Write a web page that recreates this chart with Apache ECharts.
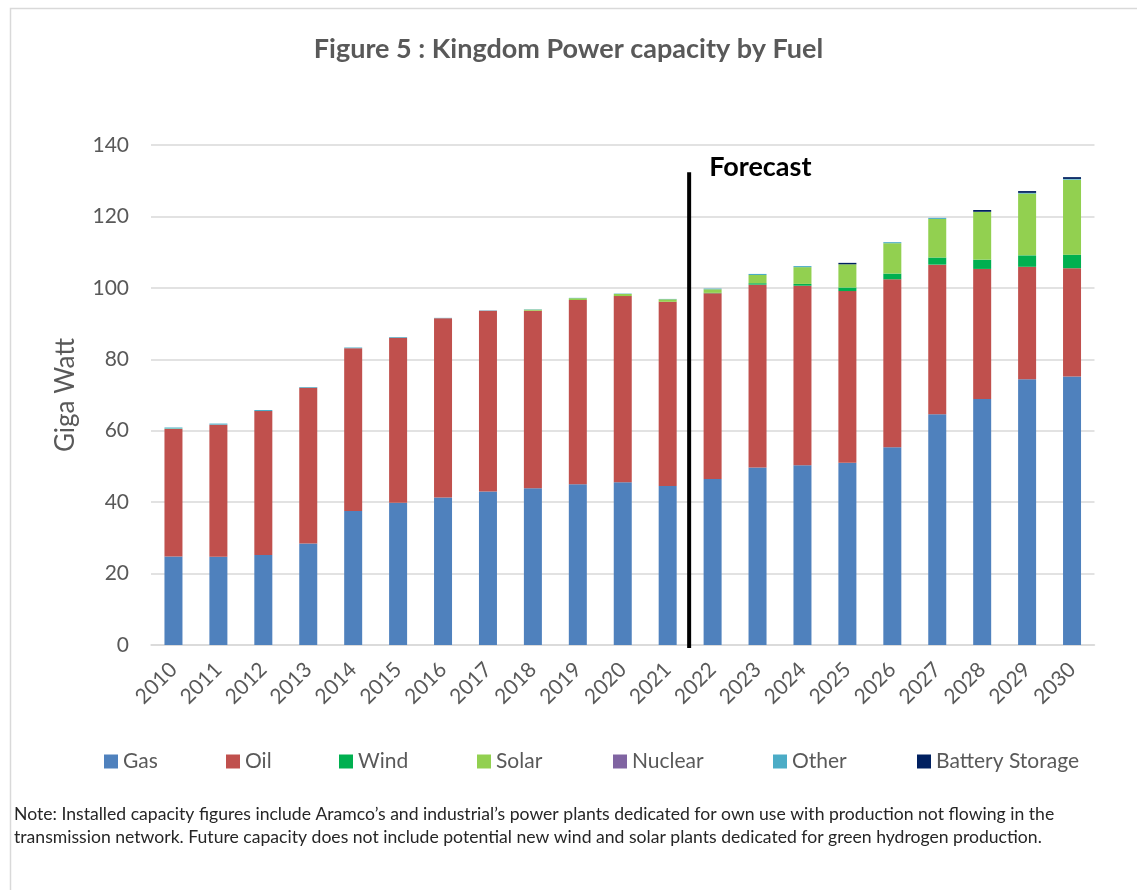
<!DOCTYPE html>
<html>
<head>
<meta charset="utf-8">
<script src="https://cdn.jsdelivr.net/npm/echarts@6/dist/echarts.min.js"></script>
<style>
html,body{margin:0;padding:0;background:#fff;}
#chart{width:1137px;height:890px;}
</style>
</head>
<body>
<div id="chart"></div>
<script>
const years = ['2010','2011','2012','2013','2014','2015','2016','2017','2018','2019','2020','2021','2022','2023','2024','2025','2026','2027','2028','2029','2030'];
const gas     = [24.8,24.7,25.2,28.4,37.5,39.8,41.3,43.0,43.9,45.0,45.6,44.5,46.5,49.7,50.3,51.0,55.4,64.6,68.9,74.4,75.2];
const oil     = [35.7,37.0,40.3,43.6,45.6,46.2,50.2,50.6,49.7,51.6,52.1,51.6,52.0,51.2,50.3,48.1,47.0,41.9,36.4,31.5,30.3];
const wind    = [0,0,0,0,0,0,0,0,0,0,0,0,0.1,0.4,0.5,1.0,1.6,2.0,2.6,3.2,3.8];
const solar   = [0.1,0,0,0,0,0,0,0,0.3,0.5,0.6,0.7,1.0,2.3,4.7,6.5,8.5,10.8,13.4,17.3,21.0];
const nuclear = [0,0,0,0,0,0,0,0,0,0,0,0,0,0,0,0,0,0,0,0,0];
const other   = [0.3,0.3,0.3,0.2,0.2,0.2,0.1,0.1,0.1,0.1,0.1,0.1,0.2,0.3,0.3,0,0.3,0.3,0,0.2,0.2];
const battery = [0,0,0,0,0,0,0,0,0,0,0,0,0,0,0,0.4,0,0,0.5,0.5,0.5];

const yTicks = { min: 0, max: 140, interval: 20 };
const forecastLabel = 'Forecast';
const forecastAfter = '2021';
const forecastTopValue = 132.4;

const seriesNames = ['Gas','Oil','Wind','Solar','Nuclear','Other','Battery Storage'];
const seriesData = [gas, oil, wind, solar, nuclear, other, battery];
const colors = ['#4F81BD','#C0504D','#00B050','#92D050','#8064A2','#4BACC6','#002060'];
const legendLeft = [99, 221, 334, 472, 608, 768, 912];

const FONT = 'Lato';
const GREY = '#595959';

const chart = echarts.init(document.getElementById('chart'), null, {renderer: 'canvas'});

const option = {
  backgroundColor: '#fff',
  animation: false,
  color: colors,
  textStyle: { fontFamily: FONT },
  title: {
    text: 'Figure 5 : Kingdom Power capacity by Fuel',
    left: 'center',
    top: 31,
    textStyle: { fontFamily: FONT, fontSize: 27, fontWeight: 'bold', color: GREY }
  },
  legend: seriesNames.map((n, i) => ({
    data: [n],
    left: legendLeft[i],
    top: 746,
    icon: 'rect',
    itemWidth: 14,
    itemHeight: 14,
    itemGap: 0,
    selectedMode: false,
    textStyle: { fontFamily: FONT, fontSize: 21, color: GREY, padding: [0,0,0,0] }
  })),
  grid: { left: 151, right: 42.5, top: 145, bottom: 245, containLabel: false },
  xAxis: {
    type: 'category',
    data: years,
    axisTick: { show: false },
    axisLine: { lineStyle: { color: '#D9D9D9', width: 1.5 } },
    axisLabel: { rotate: 45, fontFamily: FONT, fontSize: 21, color: GREY, margin: 21, interval: 0 }
  },
  yAxis: {
    type: 'value',
    min: yTicks.min, max: yTicks.max, interval: yTicks.interval,
    name: 'Giga Watt',
    nameLocation: 'middle',
    nameRotate: 90,
    nameGap: 72,
    nameTextStyle: { fontFamily: FONT, fontSize: 26, color: GREY, padding: [0, 0, 0, 0] },
    axisLine: { show: false },
    axisTick: { show: false },
    axisLabel: { fontFamily: FONT, fontSize: 21, color: GREY, margin: 22 },
    splitLine: { lineStyle: { color: '#D9D9D9', width: 1.5 } }
  },
  series: seriesNames.map((n, i) => ({
    name: n,
    type: 'bar',
    stack: 'total',
    barWidth: 18,
    data: seriesData[i],
    itemStyle: { color: colors[i] },
    emphasis: { disabled: true }
  }))
};

chart.setOption(option);

// Forecast divider and annotation, positioned through the chart's own scales
const idx = years.indexOf(forecastAfter);
const xA = chart.convertToPixel({xAxisIndex: 0}, years[idx]);
const xB = chart.convertToPixel({xAxisIndex: 0}, years[idx + 1]);
const xLine = (xA + xB) / 2 - 1;
const yTop = chart.convertToPixel({yAxisIndex: 0}, forecastTopValue);
const yBot = chart.convertToPixel({yAxisIndex: 0}, 0) + 3;

chart.setOption({
  graphic: [
    {
      type: 'rect', left: 8, top: 6, silent: true,
      shape: { x: 0, y: 0, width: 1300, height: 1000 },
      style: { fill: 'none', stroke: '#D9D9D9', lineWidth: 1.5 }
    },
    {
      type: 'line', silent: true, z: 10,
      shape: { x1: xLine, y1: yTop, x2: xLine, y2: yBot },
      style: { stroke: '#000', lineWidth: 4 }
    },
    {
      type: 'text', silent: true, z: 10,
      x: xLine + 20, y: yTop - 18,
      style: { text: forecastLabel, fontFamily: FONT, fontSize: 27, fontWeight: 'bold', fill: '#000' }
    },
    {
      type: 'text', silent: true,
      x: 14, y: 803,
      style: {
        text: 'Note: Installed capacity figures include Aramco\u2019s and industrial\u2019s power plants dedicated for own use with production not flowing in the\ntransmission network. Future capacity does not include potential new wind and solar plants dedicated for green hydrogen production.',
        fontFamily: FONT, fontSize: 17.6, lineHeight: 23, fill: '#262626'
      }
    }
  ]
});
</script>
</body>
</html>
